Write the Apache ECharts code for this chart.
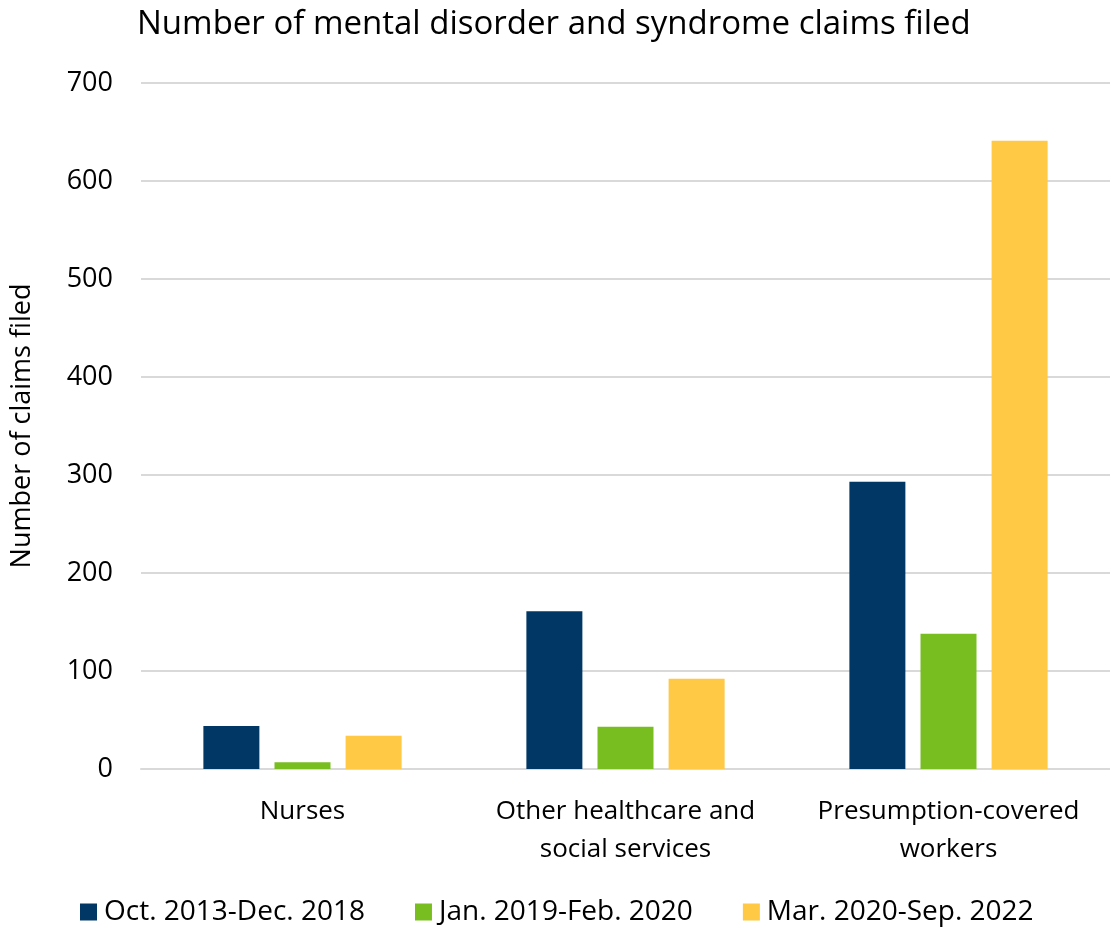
<!DOCTYPE html>
<html><head><meta charset="utf-8">
<script src="https://cdn.jsdelivr.net/npm/echarts@6/dist/echarts.min.js"></script>
<style>html,body{margin:0;padding:0;background:#fff}#c{width:1110px;height:929px}</style>
</head><body><div id="c"></div>
<script>
const categories = ['Nurses', 'Other healthcare and\nsocial services', 'Presumption-covered\nworkers'];
const seriesNames = ['Oct. 2013-Dec. 2018', 'Jan. 2019-Feb. 2020', 'Mar. 2020-Sep. 2022'];
const period1 = [44, 161, 293];
const period2 = [7, 43, 138];
const period3 = [34, 92, 641];
const colors = ['#003764', '#78BE20', '#FFC845'];
const FONT = 'Open Sans';
const chart = echarts.init(document.getElementById('c'));
chart.setOption({
  animation: false,
  textStyle: {fontFamily: FONT},
  title: {text: 'Number of mental disorder and syndrome claims filed', left: 132, top: 3,
    textStyle: {fontFamily: FONT, fontSize: 33, fontWeight: 'normal', color: '#000'}},
  legend: {top: 893, left: 75, itemWidth: 17, itemHeight: 17, itemGap: 50, icon: 'rect',
    textStyle: {fontFamily: FONT, fontSize: 28, color: '#000', padding: [0, 0, 0, 2]}},
  grid: {left: 141, right: 0, top: 83, bottom: 160, containLabel: false},
  xAxis: {type: 'category', data: categories,
    axisLine: {lineStyle: {color: '#d9d9d9', width: 2}}, axisTick: {show: false},
    axisLabel: {interval: 0, hideOverlap: false, fontFamily: FONT, fontSize: 26, color: '#000', margin: 24, lineHeight: 38}},
  yAxis: {type: 'value', min: 0, max: 700, interval: 100,
    name: 'Number of claims filed', nameLocation: 'middle', nameGap: 105, nameRotate: 90,
    nameTextStyle: {fontFamily: FONT, fontSize: 27, color: '#000'},
    axisLine: {show: false}, axisTick: {show: false},
    axisLabel: {fontFamily: FONT, fontSize: 27, color: '#000', margin: 28},
    splitLine: {lineStyle: {color: '#d9d9d9', width: 2}}},
  series: [
    {name: seriesNames[0], type: 'bar', data: period1, itemStyle: {color: colors[0]}, barWidth: 56, barGap: '27%'},
    {name: seriesNames[1], type: 'bar', data: period2, itemStyle: {color: colors[1]}, barWidth: 56, barGap: '27%'},
    {name: seriesNames[2], type: 'bar', data: period3, itemStyle: {color: colors[2]}, barWidth: 56, barGap: '27%'}
  ]
});
</script></body></html>
